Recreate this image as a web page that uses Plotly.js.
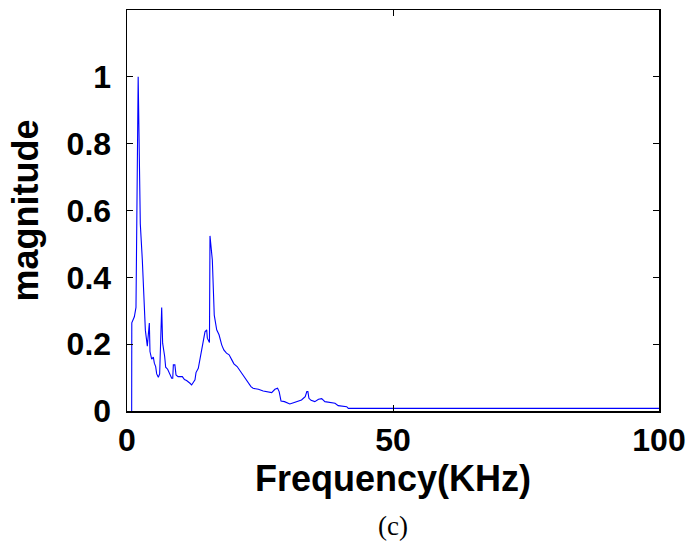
<!DOCTYPE html>
<html>
<head>
<meta charset="utf-8">
<script src="https://cdn.plot.ly/plotly-3.0.1.min.js"></script>
<style>html,body{margin:0;padding:0;background:#fff;}#chart{width:696px;height:551px;}</style>
</head>
<body>
<div id="chart"></div>
<script>
const freq = [0.88, 0.9, 1.38, 1.69, 2.1, 2.5, 2.88, 3.26, 3.45, 3.82, 4.2, 4.32, 4.64, 4.95, 5.14, 5.39, 5.58, 5.89, 6.14, 6.52, 6.7, 7.08, 7.27, 7.64, 7.96, 8.4, 8.6, 8.71, 9.0, 9.21, 9.6, 10.4, 10.8, 11.2, 11.84, 12.15, 12.78, 12.97, 13.4, 13.85, 14.0, 14.35, 14.66, 14.98, 15.1, 15.5, 15.6, 16.04, 16.4, 16.86, 17.3, 17.8, 18.2, 18.7, 19.2, 19.7, 20.1, 20.7, 21.05, 21.56, 22.18, 22.8, 23.3, 23.7, 24.7, 25.6, 26.6, 27.2, 27.8, 28.3, 28.6, 28.95, 29.6, 30.6, 31.3, 32.2, 32.8, 33.5, 33.8, 34.0, 34.2, 34.6, 35.3, 36.0, 36.6, 37.2, 38.2, 39.1, 39.7, 40.7, 41.3, 41.6, 100];
const magnitude = [0, 0.264, 0.282, 0.31, 1.0, 0.56, 0.452, 0.332, 0.242, 0.194, 0.263, 0.178, 0.155, 0.161, 0.143, 0.133, 0.111, 0.101, 0.111, 0.31, 0.203, 0.163, 0.131, 0.125, 0.111, 0.098, 0.098, 0.138, 0.138, 0.108, 0.103, 0.103, 0.094, 0.091, 0.083, 0.078, 0.093, 0.115, 0.128, 0.168, 0.178, 0.213, 0.237, 0.243, 0.218, 0.205, 0.524, 0.452, 0.287, 0.243, 0.228, 0.198, 0.183, 0.173, 0.168, 0.153, 0.141, 0.133, 0.125, 0.113, 0.101, 0.088, 0.073, 0.068, 0.065, 0.06, 0.058, 0.055, 0.065, 0.068, 0.058, 0.03, 0.028, 0.021, 0.025, 0.03, 0.033, 0.043, 0.058, 0.058, 0.038, 0.032, 0.028, 0.035, 0.037, 0.028, 0.026, 0.023, 0.016, 0.015, 0.013, 0.008, 0.008];
const xTicks = [0, 50, 100];
const xTickText = ["0", "50", "100"];
const yTicks = [0, 0.2, 0.4, 0.6, 0.8, 1.0];
const yTickText = ["0", "0.2", "0.4", "0.6", "0.8", "1"];
const xLabel = "Frequency(KHz)";
const yLabel = "magnitude";
const caption = "(c)";

const font = "Liberation Sans, Arial, Helvetica, sans-serif";
const trace = {
  x: freq, y: magnitude, type: "scatter", mode: "lines",
  line: {color: "#0000ff", width: 1.1}, hoverinfo: "none"
};
const layout = {
  width: 696, height: 551,
  margin: {l: 127, r: 37, t: 10, b: 140},
  paper_bgcolor: "#fff", plot_bgcolor: "#fff",
  showlegend: false,
  xaxis: {
    range: [0, 100], tickvals: xTicks, ticktext: xTickText,
    showline: true, linecolor: "#000", linewidth: 1.5, mirror: "ticks",
    ticks: "inside", ticklen: 6, tickwidth: 1, tickcolor: "#000",
    showgrid: false, zeroline: false,
    tickfont: {family: font, size: 32, color: "#000", weight: "bold"}
  },
  yaxis: {
    range: [0, 1.2], tickvals: yTicks, ticktext: yTickText,
    showline: true, linecolor: "#000", linewidth: 1.5, mirror: "ticks",
    ticks: "inside", ticklen: 6, tickwidth: 1, tickcolor: "#000",
    showgrid: false, zeroline: false, ticklabelstandoff: 8,
    tickfont: {family: font, size: 32, color: "#000", weight: "bold"}
  },
  annotations: [
    {text: "<b>" + xLabel + "</b>", xref: "paper", yref: "paper", x: 0.5, y: -0.168,
     xanchor: "center", yanchor: "middle", showarrow: false,
     font: {family: font, size: 36, color: "#000"}},
    {text: "<b>" + yLabel + "</b>", xref: "paper", yref: "paper", x: -0.19, y: 0.5,
     xanchor: "center", yanchor: "middle", textangle: -90, showarrow: false,
     font: {family: font, size: 36, color: "#000"}},
    {text: caption, xref: "paper", yref: "paper", x: 0.5, y: -0.245,
     xanchor: "center", yanchor: "top", showarrow: false,
     font: {family: "Liberation Serif, Times New Roman, serif", size: 27, color: "#000"}}
  ]
};
Plotly.newPlot("chart", [trace], layout, {displayModeBar: false, staticPlot: true});
</script>
</body>
</html>
